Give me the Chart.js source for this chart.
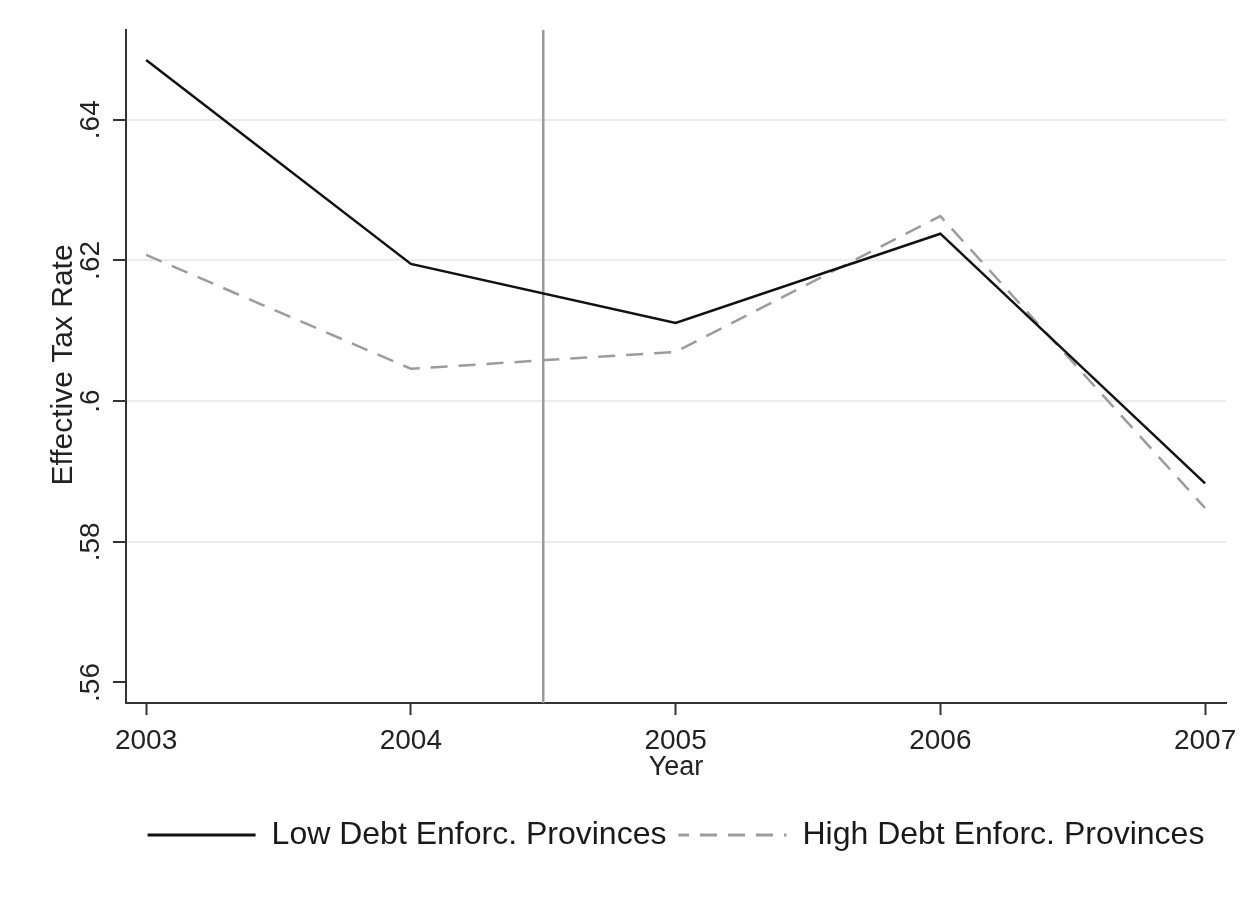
<!DOCTYPE html>
<html>
<head>
<meta charset="utf-8">
<script src="https://cdn.jsdelivr.net/npm/chart.js@4/dist/chart.umd.min.js"></script>
<style>
  html, body { margin: 0; padding: 0; background: #fff; }
  #wrap { width: 1255px; height: 901px; }
</style>
</head>
<body>
<div id="wrap"><canvas id="chart" width="1255" height="901"></canvas></div>
<script>
// ── Data ──────────────────────────────────────────────────────────────────
const years       = [2003, 2004, 2005, 2006, 2007];
const lowEnforc   = [0.6485, 0.6195, 0.6111, 0.6238, 0.5883];
const highEnforc  = [0.6208, 0.6046, 0.6070, 0.6263, 0.5848];
const yTicks      = [0.56, 0.58, 0.60, 0.62, 0.64];
const yTickLabels = ['.56', '.58', '.6', '.62', '.64'];
const breakYear   = 2004.5;

const FONT = "'Liberation Sans', Arial, sans-serif";
const DASH = [17, 11];

// dashed fill for the legend swatch (legend point styles ignore borderDash)
function dashPattern(color) {
  const c = document.createElement('canvas');
  c.width = DASH[0] + DASH[1];
  c.height = 4;
  const g = c.getContext('2d');
  g.fillStyle = color;
  g.fillRect(0, 0, DASH[0], 4);
  return g.createPattern(c, 'repeat');
}

// ── Plugins: vertical reference line, rotated y labels and title ──────────
const refLine = {
  id: 'refLine',
  beforeDatasetsDraw(chart) {
    const { ctx, chartArea, scales } = chart;
    const x = scales.x.getPixelForValue(breakYear);
    ctx.save();
    ctx.strokeStyle = '#9a9a9a';
    ctx.lineWidth = 2.5;
    ctx.beginPath();
    ctx.moveTo(x, chartArea.top);
    ctx.lineTo(x, chartArea.bottom);
    ctx.stroke();
    ctx.restore();
  }
};

const yLabels = {
  id: 'yLabels',
  afterDraw(chart) {
    const { ctx, scales } = chart;
    const y = scales.y;
    ctx.save();
    ctx.fillStyle = '#222';
    ctx.textAlign = 'center';
    ctx.textBaseline = 'alphabetic';
    ctx.font = `28px ${FONT}`;
    yTicks.forEach((v, i) => {
      ctx.save();
      ctx.translate(99, y.getPixelForValue(v));
      ctx.rotate(-Math.PI / 2);
      ctx.fillText(yTickLabels[i], 0, 0);
      ctx.restore();
    });
    // axis title
    ctx.font = `30px ${FONT}`;
    ctx.translate(72, 365);
    ctx.rotate(-Math.PI / 2);
    ctx.fillText('Effective Tax Rate', 0, 0);
    ctx.restore();
  }
};

// ── Chart ─────────────────────────────────────────────────────────────────
new Chart(document.getElementById('chart'), {
  type: 'line',
  data: {
    datasets: [
      {
        label: 'Low Debt Enforc. Provinces',
        data: years.map((x, i) => ({ x, y: lowEnforc[i] })),
        borderColor: '#111',
        borderWidth: 2.5,
        pointRadius: 0,
        tension: 0,
      },
      {
        label: 'High Debt Enforc. Provinces',
        data: years.map((x, i) => ({ x, y: highEnforc[i] })),
        borderColor: '#9c9c9c',
        borderWidth: 2.5,
        borderDash: DASH,
        pointRadius: 0,
        tension: 0,
      },
    ],
  },
  options: {
    responsive: false,
    animation: false,
    layout: { padding: { top: 30, left: 0, right: 29, bottom: 40 } },
    plugins: {
      tooltip: { enabled: false },
      legend: {
        position: 'bottom',
        fullSize: false,
        labels: {
          boxWidth: 108,
          boxHeight: 3,
          padding: 12,
          color: '#1a1a1a',
          font: { family: FONT, size: 32 },
          generateLabels(chart) {
            const items = Chart.defaults.plugins.legend.labels.generateLabels(chart);
            return items.map((it, i) => {
              const ds = chart.data.datasets[i];
              it.lineWidth = 0;
              it.lineDash = [];
              it.fillStyle = ds.borderDash ? dashPattern(ds.borderColor) : ds.borderColor;
              return it;
            });
          },
        },
      },
    },
    scales: {
      x: {
        type: 'linear',
        min: 2002.924,
        max: 2007.079,
        afterBuildTicks: s => { s.ticks = years.map(v => ({ value: v })); },
        afterFit: s => { s.height = 104; },
        ticks: {
          callback: v => String(v),
          color: '#222',
          padding: 9,
          maxRotation: 0,
          autoSkip: false,
          font: { family: FONT, size: 28 },
        },
        grid: {
          drawOnChartArea: false,
          tickLength: 12,
          tickColor: '#333',
          tickWidth: 2,
        },
        border: { color: '#333', width: 2 },
        title: {
          display: true,
          text: 'Year',
          color: '#222',
          font: { family: FONT, size: 27 },
          padding: { top: 0, bottom: 23 },
        },
      },
      y: {
        min: 0.55708,
        max: 0.65276,
        afterBuildTicks: s => { s.ticks = yTicks.map(v => ({ value: v })); },
        afterFit: s => { s.width = 126; },
        ticks: { display: false },
        grid: {
          color: c => (c.tick && c.tick.value === 0.56 ? 'rgba(0,0,0,0)' : '#ececec'),
          lineWidth: 2,
          tickLength: 13,
          tickColor: '#333',
          tickWidth: 2,
        },
        border: { color: '#333', width: 2 },
      },
    },
  },
  plugins: [refLine, yLabels],
});
</script>
</body>
</html>
